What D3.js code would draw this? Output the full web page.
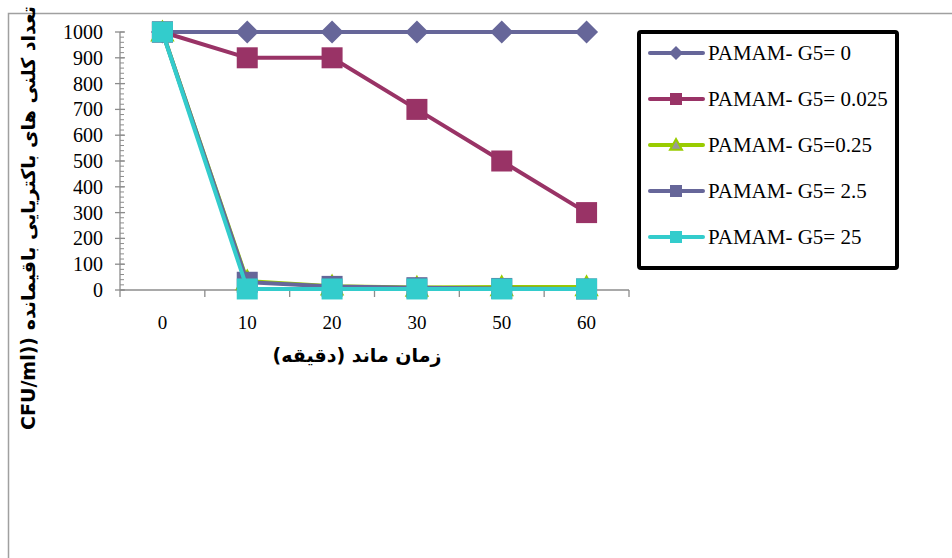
<!DOCTYPE html>
<html lang="en">
  <head>
    <meta charset="utf-8" />
    <script src="https://d3js.org/d3.v7.min.js"></script>
    <style>
      body {
        margin: 0;
        background-color: #fff;
      }
    </style>
  </head>
  <body>
    <div id="chart"></div>

    <script>
      const width = 952;
      const height = 558;

      const serif =
        "'Liberation Serif', Tinos, 'Times New Roman', Times, 'Noto Serif', 'DejaVu Serif', serif";
      const sansBold = "'DejaVu Sans', 'Liberation Sans', sans-serif";

      // données
      const minutes = ["0", "10", "20", "30", "50", "60"];
      const yTicks = [0, 100, 200, 300, 400, 500, 600, 700, 800, 900, 1000];
      const seriesNames = [
        "PAMAM- G5= 0",
        "PAMAM- G5= 0.025",
        "PAMAM- G5=0.25",
        "PAMAM- G5= 2.5",
        "PAMAM- G5= 25"
      ];
      const g5_0 = [1000, 1000, 1000, 1000, 1000, 1000];
      const g5_0025 = [1000, 900, 900, 700, 500, 300];
      const g5_025 = [1000, 35, 15, 10, 12, 12];
      const g5_25 = [1000, 30, 14, 9, 6, 4];
      const g5_250 = [1000, 4, 4, 4, 4, 4];
      const colors = ["#666699", "#993366", "#99cc00", "#666699", "#33cccc"];
      const symbols = ["diamond", "square", "triangle", "square", "square"];

      const series = [g5_0, g5_0025, g5_025, g5_25, g5_250].map((vals, i) => ({
        name: seriesNames[i],
        color: colors[i],
        symbol: symbols[i],
        values: vals
      }));

      const svg = d3
        .select("#chart")
        .append("svg")
        .attr("width", width)
        .attr("height", height);

      // cadre extérieur
      svg
        .append("path")
        .attr("d", `M8.5,${height} V13.5 H${width}`)
        .attr("fill", "none")
        .attr("stroke", "#a0a0a0")
        .attr("stroke-width", 1.5);

      const x = d3.scaleBand().domain(minutes).range([120, 629]).padding(0);
      const y = d3.scaleLinear().domain([0, 1000]).range([290, 32]);

      const axisColor = "#8c8c8c";

      // axe Y
      const yAxis = svg.append("g");
      yAxis
        .append("line")
        .attr("x1", x.range()[0])
        .attr("x2", x.range()[0])
        .attr("y1", y(0))
        .attr("y2", y(1000))
        .attr("stroke", axisColor)
        .attr("stroke-width", 1.3);
      yAxis
        .selectAll(".minor")
        .data(d3.range(0, 1001, 20))
        .join("line")
        .attr("x1", x.range()[0])
        .attr("x2", x.range()[0] + 4)
        .attr("y1", (d) => y(d))
        .attr("y2", (d) => y(d))
        .attr("stroke", axisColor);
      yAxis
        .selectAll(".major")
        .data(yTicks)
        .join("line")
        .attr("x1", x.range()[0] - 5)
        .attr("x2", x.range()[0] + 5)
        .attr("y1", (d) => y(d))
        .attr("y2", (d) => y(d))
        .attr("stroke", axisColor)
        .attr("stroke-width", 1.3);
      yAxis
        .selectAll("text")
        .data(yTicks)
        .join("text")
        .style("font-family", serif)
        .attr("x", 103)
        .attr("y", (d) => y(d))
        .attr("dy", "0.35em")
        .attr("text-anchor", "end")
        .attr("font-size", 20)
        .text((d) => d);

      // axe X
      const xAxis = svg.append("g");
      xAxis
        .append("line")
        .attr("x1", x.range()[0])
        .attr("x2", x.range()[1])
        .attr("y1", y(0))
        .attr("y2", y(0))
        .attr("stroke", axisColor)
        .attr("stroke-width", 1.3);
      const bounds = minutes.map((d) => x(d)).concat([x.range()[1]]);
      xAxis
        .selectAll(".tk")
        .data(bounds)
        .join("line")
        .attr("x1", (d) => d)
        .attr("x2", (d) => d)
        .attr("y1", y(0))
        .attr("y2", y(0) + 7)
        .attr("stroke", axisColor)
        .attr("stroke-width", 1.3);
      xAxis
        .selectAll("text")
        .data(minutes)
        .join("text")
        .style("font-family", serif)
        .attr("x", (d) => x(d) + x.bandwidth() / 2)
        .attr("y", 322)
        .attr("dy", "0.35em")
        .attr("text-anchor", "middle")
        .attr("font-size", 19)
        .text((d) => d);

      // titres
      svg
        .append("text")
        .style("font-family", sansBold)
        .attr("font-weight", "bold")
        .attr("x", 357)
        .attr("y", 355)
        .attr("dy", "0.35em")
        .attr("text-anchor", "middle")
        .attr("direction", "rtl")
        .attr("font-size", 19)
        .text("زمان ماند (دقیقه)");

      svg
        .append("text")
        .style("font-family", sansBold)
        .attr("font-weight", "bold")
        .attr("transform", "translate(28,218) rotate(-90)")
        .attr("dy", "0.35em")
        .attr("text-anchor", "middle")
        .attr("direction", "rtl")
        .attr("font-size", 19)
        .text("تعداد کلنی های باکتریایی باقیمانده ((CFU/ml");

      const cx = (i) => x(minutes[i]) + x.bandwidth() / 2;
      const line = d3
        .line()
        .x((d, i) => cx(i))
        .y((d) => y(d));

      function drawMarker(g, s, px, py, size) {
        if (s.symbol === "square") {
          g.append("rect")
            .attr("x", px - size / 2)
            .attr("y", py - size / 2)
            .attr("width", size)
            .attr("height", size)
            .attr("fill", s.color);
        } else if (s.symbol === "diamond") {
          const r = size / 2 + 1;
          g.append("path")
            .attr(
              "d",
              `M${px},${py - r} L${px + r},${py} L${px},${py + r} L${px - r},${py} Z`
            )
            .attr("fill", s.color);
        } else {
          const r = size / 2;
          g.append("path")
            .attr(
              "d",
              `M${px},${py - r} L${px + r},${py + r * 0.8} L${px - r},${py + r * 0.8} Z`
            )
            .attr("fill", "#999999")
            .attr("stroke", s.color)
            .attr("stroke-width", 2);
        }
      }

      series.forEach((s) => {
        const g = svg.append("g");
        g.append("path")
          .datum(s.values)
          .attr("d", line)
          .attr("fill", "none")
          .attr("stroke", s.color)
          .attr("stroke-width", 4)
          .attr("stroke-linejoin", "round");
        s.values.forEach((v, i) => drawMarker(g, s, cx(i), y(v), 21));
      });

      // légende
      const legend = svg.append("g");
      legend
        .append("rect")
        .attr("x", 639)
        .attr("y", 32)
        .attr("width", 258)
        .attr("height", 236)
        .attr("rx", 2)
        .attr("fill", "#fff")
        .attr("stroke", "#000")
        .attr("stroke-width", 4);

      series.forEach((s, i) => {
        const ly = 53 + i * 46;
        const g = legend.append("g");
        g.append("line")
          .attr("x1", 650)
          .attr("x2", 703)
          .attr("y1", ly)
          .attr("y2", ly)
          .attr("stroke", s.color)
          .attr("stroke-width", 4)
          .attr("stroke-linecap", "round");
        drawMarker(g, s, 676, ly, 12);
        g.append("text")
          .style("font-family", serif)
          .attr("x", 708)
          .attr("y", ly)
          .attr("dy", "0.35em")
          .attr("font-size", 21)
          .text(s.name);
      });
    </script>
  </body>
</html>
